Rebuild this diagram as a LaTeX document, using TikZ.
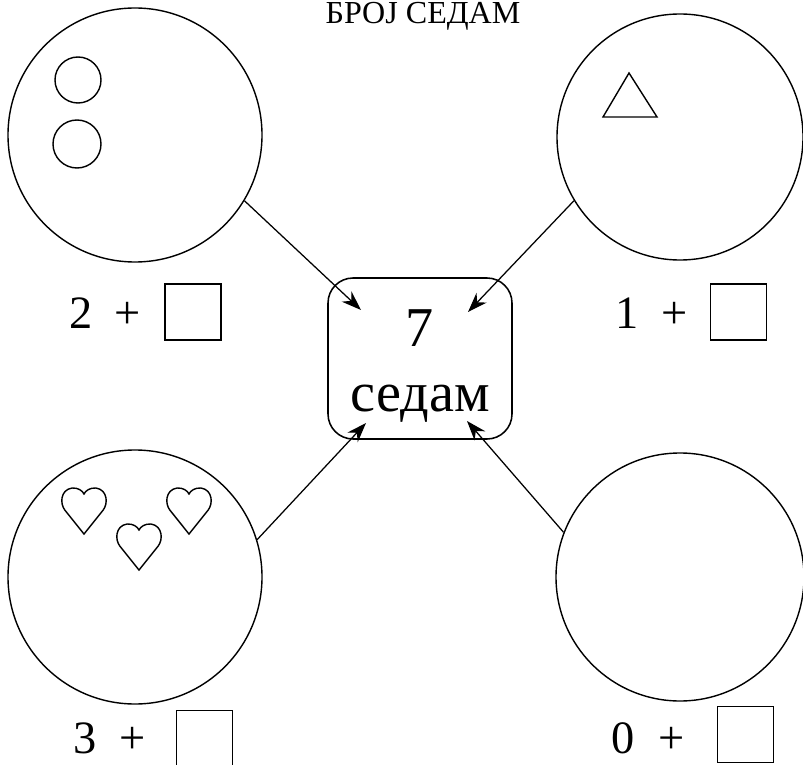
\documentclass[tikz,border=0pt]{standalone}
\usepackage{fontspec}
\setmainfont{Liberation Serif}
\usetikzlibrary{arrows.meta}

\tikzset{
	ring/.style={circle, draw, line width=1pt, inner sep=0pt},
	answer/.style={draw, line width=1.1pt, minimum size=1.4cm, inner sep=0pt},
	numlabel/.style={anchor=base, font=\fontsize{33}{40}\selectfont},
	link/.style={-{Stealth[length=14pt, width=10pt, inset=4.5pt]}, line width=0.9pt},
	pics/heart/.style={code={
		\draw[line width=1pt] (0, 0) -- (-0.48, 0.6) .. controls (-0.6, 0.75) and (-0.6, 1.1) .. (-0.3, 1.15)
			.. controls (-0.14, 1.16) and (-0.04, 1.08) .. (0, 1.0)
			.. controls (0.04, 1.08) and (0.14, 1.16) .. (0.3, 1.15)
			.. controls (0.6, 1.1) and (0.6, 0.75) .. (0.48, 0.6) -- cycle;
	}}
}

\begin{document}
\begin{tikzpicture}
	\useasboundingbox (0, 0) rectangle (20.075, 19.1);
	% Title and centre box:
	\node[anchor=base, font=\fontsize{22.8}{27}\selectfont] (title) at (10.575, 18.5){БРОЈ СЕДАМ};
	\node[draw, rounded corners=0.625cm, minimum width=4.6cm, minimum height=4.025cm, line width=1.1pt] (seven) at (10.5, 10.1375){};
	\node[align=center, font=\fontsize{40}{46}\selectfont] (word) at (10.5, 9.95){7\\седам};
	% Big circles:
	\node[ring, minimum size=6.35cm] (c1) at (3.375, 15.725){};
	\node[ring, minimum size=6.15cm] (c2) at (17.0, 15.675){};
	\node[ring, minimum size=6.35cm] (c3) at (3.375, 4.675){};
	\node[ring, minimum size=6.2cm] (c4) at (17.0, 4.675){};
	% Things inside the circles:
	\node[ring, minimum size=1.15cm] (b1) at (1.95, 17.1){};
	\node[ring, minimum size=1.2cm] (b2) at (1.925, 15.5){};
	\draw[line width=1pt] (15.725, 17.275) -- (15.075, 16.175) -- (16.425, 16.175) -- cycle;
	\pic at (2.1, 5.75){heart};
	\pic at (3.475, 4.85){heart};
	\pic at (4.725, 5.75){heart};
	% Sums under the circles:
	\node[numlabel] (n1) at (2.025, 10.9){2};
	\node[numlabel] (p1) at (3.1875, 10.9){+};
	\node[answer] (s1) at (4.825, 11.3){};
	\node[numlabel] (n2) at (15.6875, 10.9){1};
	\node[numlabel] (p2) at (16.875, 10.9){+};
	\node[answer] (s2) at (18.4625, 11.3){};
	\node[numlabel] (n3) at (2.125, 0.275){3};
	\node[numlabel] (p3) at (3.3125, 0.275){+};
	\node[answer] (s3) at (5.1125, 0.6375){};
	\node[numlabel] (n4) at (15.575, 0.275){0};
	\node[numlabel] (p4) at (16.7875, 0.275){+};
	\node[answer] (s4) at (18.6375, 0.7375){};
	% Arrows into the box:
	\coordinate (t1) at (9.025, 11.35);
	\coordinate (t2) at (11.7, 11.3);
	\coordinate (t3) at (9.15, 8.525);
	\coordinate (t4) at (11.675, 8.575);
	\draw[link] (c1.-31.4) -- (t1);
	\draw[link] (c2.-149.8) -- (t2);
	\draw[link] (c3.17.7) -- (t3);
	\draw[link] (c4.159.2) -- (t4);
\end{tikzpicture}
\end{document}
